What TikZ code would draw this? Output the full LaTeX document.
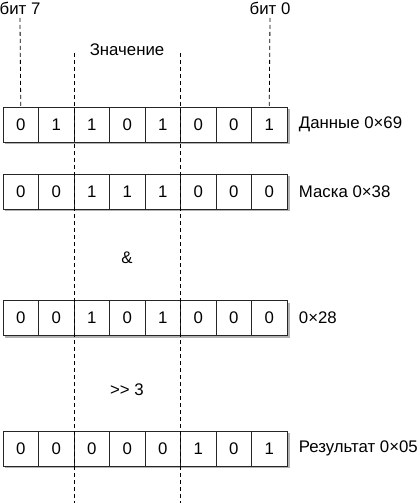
\documentclass[tikz,border=0pt]{standalone}
\usepackage{fontspec}
\setmainfont{Liberation Sans}
\usetikzlibrary{positioning}

\begin{document}
\begin{tikzpicture}[x=1pt,y=-1pt,
    every node/.style={font=\fontsize{16.8}{18}\selectfont},
    cell/.style={draw=black!85, fill=white, minimum width=35.5pt, minimum height=35pt, inner sep=0pt, line width=0.8pt},
    guide/.style={line width=0.8pt, dash pattern=on 4pt off 3pt}]

        \useasboundingbox (0,0) rectangle (420,503);

        % register rows: name / centre y / bits / label
        \foreach \row/\yc/\bits/\lab in {dat/124.5/{0,1,1,0,1,0,0,1}/{Данные 0×69},
                                         msk/191.5/{0,0,1,1,1,0,0,0}/{Маска 0×38},
                                         res/318/{0,0,1,0,1,0,0,0}/{0×28},
                                         shf/448.5/{0,0,0,0,0,1,0,1}/{Результат 0×05}} {
          \fill[black!30] (5,\yc-15.5) rectangle (289.5,\yc+19.5);
          \foreach \b [count=\i] in \bits {
            \node[cell] (\row\i) at (20.75+35.5*\i-35.5,\yc) {\b};
          }
          \node[anchor=west, right=8pt of \row8] (\row-lab) {\lab};
        }

        % bit positions
        \node (bit7) at (20,8) {бит 7};
        \node (bit0) at (270,8) {бит 0};
        \draw[guide] (bit7.south) -- (dat1.north);
        \draw[guide] (bit0.south) -- (dat8.north);

        % value field
        \node (val) at (127,50) {Значение};
        \coordinate (v1top) at (74,53);
        \coordinate (v1bot) at (74,503);
        \coordinate (v2top) at (180.5,53);
        \coordinate (v2bot) at (180.5,503);
        \draw[guide] (v1top) -- (v1bot);
        \draw[guide] (v2top) -- (v2bot);

        % operations
        \node (andop) at (127,258) {\&};
        \node (shop) at (127,390) {{>}{>} 3};
\end{tikzpicture}
\end{document}
